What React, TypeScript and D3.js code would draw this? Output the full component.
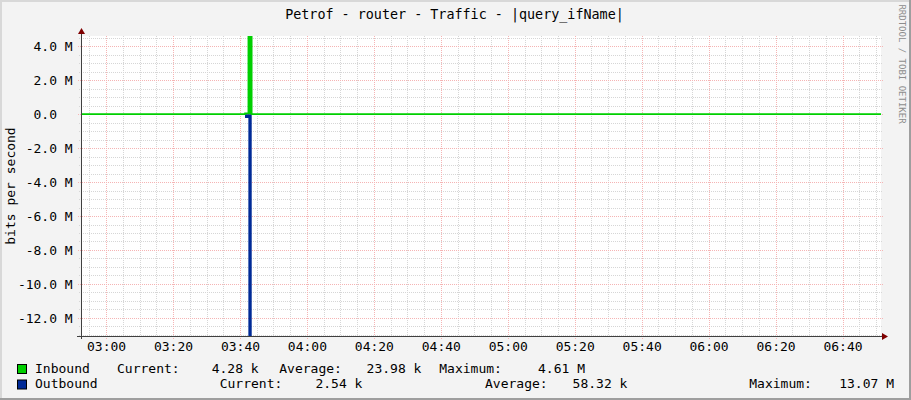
import { useEffect } from 'react';
import * as d3 from 'd3';

// samples (step after), bits per second
const sampleTimes = [
  '02:52:30', '03:05:30', '03:20:30', '03:35:30', '03:41:30', '03:42:30', '03:43:30',
  '03:55:30', '04:10:30', '04:25:30', '04:40:30', '04:55:30', '05:10:30', '05:25:30',
  '05:40:30', '05:55:30', '06:10:30', '06:25:30', '06:40:30', '06:51:30'
];
const inbound = [
  4.1e3, 4.6e3, 3.9e3, 4.4e3, 60e3, 4.61e6, 5.2e3,
  4.3e3, 4.0e3, 4.5e3, 3.8e3, 4.2e3, 4.6e3, 4.1e3,
  3.9e3, 4.4e3, 4.0e3, 4.3e3, 4.28e3, 4.28e3
];
const outbound = [
  2.6e3, 2.9e3, 2.4e3, 2.7e3, 0.22e6, 13.07e6, 3.1e3,
  2.5e3, 2.3e3, 2.8e3, 2.6e3, 2.4e3, 2.9e3, 2.5e3,
  2.7e3, 2.4e3, 2.6e3, 2.5e3, 2.54e3, 2.54e3
];

const yMajorValues = [4e6, 2e6, 0, -2e6, -4e6, -6e6, -8e6, -10e6, -12e6];
const yMajorLabels = ['4.0 M', '2.0 M', '0.0  ', '-2.0 M', '-4.0 M', '-6.0 M', '-8.0 M', '-10.0 M', '-12.0 M'];
const xTickLabels = ['03:00', '03:20', '03:40', '04:00', '04:20', '04:40', '05:00', '05:20', '05:40', '06:00', '06:20', '06:40'];

const legendNames = ['Inbound', 'Outbound'];
const legendColors = ['#00CF00', '#002A97'];
const legendCurrent = ['4.28 k', '2.54 k'];
const legendAverage = ['23.98 k', '58.32 k'];
const legendMaximum = ['4.61 M', '13.07 M'];

const W = 911;
const H = 400;
const plot = { left: 81, right: 881, top: 36, bottom: 336 };
const FONT = '"DejaVu Sans Mono", monospace';

const parse = d3.timeParse('%H:%M:%S');

export default function App() {
  useEffect(() => {
    document.body.style.margin = '0';
  }, []);

  const start = parse('02:52:30') as Date;
  const end = parse('06:51:30') as Date;
  const x = d3.scaleTime().domain([start, end]).range([plot.left, plot.right]);
  const y = d3.scaleLinear().domain([-13.07e6, 4.61e6]).range([plot.bottom, plot.top]);

  const pts = sampleTimes.map((t, i) => ({ t: parse(t) as Date, inb: inbound[i], out: outbound[i] }));

  const inArea = d3.area<typeof pts[0]>()
    .x(d => x(d.t)).y0(y(0)).y1(d => y(d.inb)).curve(d3.curveStepAfter);
  const outArea = d3.area<typeof pts[0]>()
    .x(d => x(d.t)).y0(y(0)).y1(d => y(-d.out)).curve(d3.curveStepAfter);
  const inLine = d3.line<typeof pts[0]>()
    .x(d => x(d.t)).y(d => y(d.inb)).curve(d3.curveStepAfter);

  const minorY = d3.range(-13e6, 4.61e6, 0.5e6).filter(v => !yMajorValues.includes(v));
  const xMajor = xTickLabels.map(l => parse(l + ':00') as Date);
  const xMinor = d3.timeMinute.every(5)!.range(start, end)
    .filter(d => d.getMinutes() % 20 !== 0);

  return (
    <svg width={W} height={H} style={{ display: 'block', position: 'absolute', left: 0, top: 0 }}
      fontFamily={FONT}>
      <defs>
        <clipPath id="plotclip">
          <rect x={plot.left} y={plot.top} width={plot.right - plot.left} height={plot.bottom - plot.top} />
        </clipPath>
      </defs>
      {/* background + frame shading */}
      <rect x={0} y={0} width={W} height={H} fill="#F3F3F3" />
      <path d={`M0,0H${W}V2H2V${H}H0Z`} fill="#D8D8D8" />
      <path d={`M${W},0V${H}H0V${H - 2}H${W - 2}V0Z`} fill="#9E9E9E" />
      <rect x={plot.left} y={plot.top} width={plot.right - plot.left} height={plot.bottom - plot.top} fill="#FFFFFF" />

      {/* minor grid */}
      {minorY.map(v => (
        <line key={'my' + v} x1={plot.left - 2} x2={plot.right + 1} y1={Math.round(y(v)) + 0.5} y2={Math.round(y(v)) + 0.5}
          stroke="#D6D6D6" strokeDasharray="1,1" />
      ))}
      {xMinor.map(d => (
        <line key={'mx' + d.getTime()} x1={Math.round(x(d)) + 0.5} x2={Math.round(x(d)) + 0.5} y1={plot.top} y2={plot.bottom + 2}
          stroke="#D6D6D6" strokeDasharray="1,1" />
      ))}
      {/* major grid */}
      {yMajorValues.map(v => (
        <line key={'My' + v} x1={plot.left - 3} x2={plot.right + 2} y1={Math.round(y(v)) + 0.5} y2={Math.round(y(v)) + 0.5}
          stroke="#F5B4B4" strokeDasharray="1,1" />
      ))}
      {xMajor.map(d => (
        <line key={'Mx' + d.getTime()} x1={Math.round(x(d)) + 0.5} x2={Math.round(x(d)) + 0.5} y1={plot.top} y2={plot.bottom + 3}
          stroke="#F5B4B4" strokeDasharray="1,1" />
      ))}

      {/* data */}
      <g clipPath="url(#plotclip)">
        <path d={outArea(pts) ?? ''} fill="#002A97" />
        <path d={inArea(pts) ?? ''} fill="#00CF00" />
        <path d={inLine(pts) ?? ''} fill="none" stroke="#00CF00" strokeWidth={1.6} />
      </g>

      {/* axes */}
      <line x1={plot.left - 4} x2={plot.right + 3} y1={plot.bottom + 0.5} y2={plot.bottom + 0.5} stroke="#404040" />
      <line x1={plot.left + 0.5} x2={plot.left + 0.5} y1={plot.bottom + 3} y2={plot.top - 4} stroke="#404040" />
      <path d={`M${plot.left + 0.5},${plot.top - 8}L${plot.left - 3},${plot.top - 2}L${plot.left + 4},${plot.top - 2}Z`} fill="#7F0000" />
      <path d={`M${plot.right + 7},${plot.bottom + 0.5}L${plot.right + 1},${plot.bottom - 3}L${plot.right + 1},${plot.bottom + 4}Z`} fill="#7F0000" />

      {/* y labels */}
      {yMajorValues.map((v, i) => (
        <text key={'yl' + v} x={72.7} y={y(v) + 4.8} textAnchor="end" fontSize={13} fill="#000"
          style={{ whiteSpace: 'pre' }}>{yMajorLabels[i]}</text>
      ))}
      {/* x labels */}
      {xMajor.map((d, i) => (
        <text key={'xl' + i} x={x(d) + 0.5} y={351} textAnchor="middle" fontSize={13} fill="#000">{xTickLabels[i]}</text>
      ))}

      {/* title */}
      <text x={454.5} y={19} textAnchor="middle" fontSize={13.4} fill="#000">Petrof - router - Traffic - |query_ifName|</text>
      {/* y axis title */}
      <text transform="translate(15,186) rotate(-90)" textAnchor="middle" fontSize={13} fill="#000">bits per second</text>
      {/* watermark */}
      <text transform="translate(898.5,64) rotate(90)" textAnchor="middle" fontSize={9} fill="#8C8C8C">RRDTOOL / TOBI OETIKER</text>

      {/* legend */}
      {legendNames.map((name, i) => {
        const by = i === 0 ? 364 : 379.5;
        const ty = i === 0 ? 372.7 : 388.2;
        const cols = i === 0
          ? { cur: 117, curV: 258.7, avg: 279.3, avgV: 421.4, max: 439.3, maxV: 585 }
          : { cur: 219.7, curV: 362.4, avg: 485, avgV: 627.4, max: 749.3, maxV: 894 };
        return (
          <g key={name} fontSize={13} fill="#000">
            <rect x={17.5} y={by + 0.5} width={9} height={9} fill={legendColors[i]} stroke="#000" />
            <text x={35} y={ty}>{name}</text>
            <text x={cols.cur} y={ty}>Current:</text>
            <text x={cols.curV} y={ty} textAnchor="end">{legendCurrent[i]}</text>
            <text x={cols.avg} y={ty}>Average:</text>
            <text x={cols.avgV} y={ty} textAnchor="end">{legendAverage[i]}</text>
            <text x={cols.max} y={ty}>Maximum:</text>
            <text x={cols.maxV} y={ty} textAnchor="end">{legendMaximum[i]}</text>
          </g>
        );
      })}
    </svg>
  );
}
